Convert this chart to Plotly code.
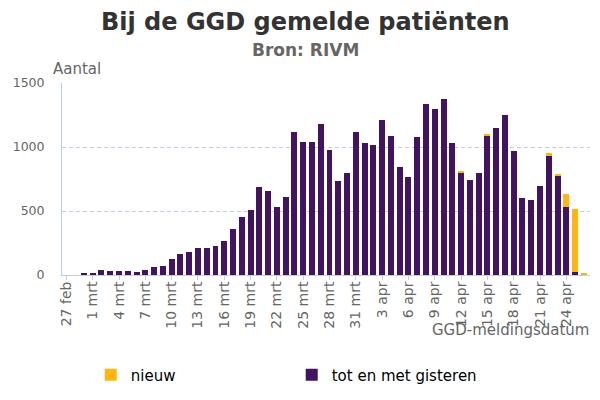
import datetime as dt
import plotly.graph_objects as go

start = dt.date(2020, 2, 27)
maanden = {2: "feb", 3: "mrt", 4: "apr"}
dates = [start + dt.timedelta(days=i) for i in range(60)]
categories = [f"{d.day} {maanden[d.month]}" for d in dates]

tot_en_met_gisteren = [
    0, 0, 8, 8, 39, 31, 31, 31, 23, 39,
    63, 70, 125, 164, 180, 211, 211, 227, 266, 360,
    454, 509, 689, 657, 532, 610, 1119, 1041, 1041, 1182,
    978, 736, 798, 1119, 1033, 1018, 1213, 1088, 845, 767,
    1080, 1338, 1299, 1378, 1033, 798, 744, 798, 1088, 1150,
    1252, 971, 603, 587, 697, 931, 775, 532, 23, 0,
]
nieuw = [
    0, 0, 0, 0, 0, 0, 0, 0, 0, 0,
    0, 0, 0, 0, 0, 0, 0, 0, 0, 0,
    0, 0, 0, 0, 0, 0, 0, 0, 0, 0,
    0, 0, 0, 0, 0, 0, 0, 0, 0, 0,
    0, 0, 0, 0, 0, 8, 0, 0, 8, 0,
    0, 0, 0, 0, 0, 24, 8, 102, 494, 16,
]
tick_labels = categories[::3]
y_ticks = [0, 500, 1000, 1500]

PURPLE = "#42145F"
YELLOW = "#FFB612"
FONT = "DejaVu Sans"
AXIS = "#BFCEE3"

fig = go.Figure()
fig.add_trace(go.Bar(x=categories, y=tot_en_met_gisteren, name="tot en met gisteren",
                     marker=dict(color=PURPLE, line=dict(width=0))))
fig.add_trace(go.Bar(x=categories, y=nieuw, name="nieuw",
                     marker=dict(color=YELLOW, line=dict(width=0))))

# plot area: left 62, width 528; top 83, bottom 275 (height 192)
H = 192.0
W = 528.0
def py(pix):
    return (275 - pix) / H
def px(pix):
    return (pix - 62) / W

fig.update_layout(
    width=600, height=400,
    barmode="stack", bargap=0.32,
    paper_bgcolor="white", plot_bgcolor="white",
    margin=dict(l=62, r=10, t=83, b=125, autoexpand=False),
    font=dict(family=FONT, color="#666666", size=13),
    showlegend=True,
    legend=dict(
        orientation="h", traceorder="reversed",
        x=0.0544, xanchor="left", y=py(375), yanchor="middle",
        font=dict(family=FONT, size=15, color="#000000"),
        entrywidth=156, itemwidth=30,
    ),
    xaxis=dict(
        type="category", categoryorder="array", categoryarray=categories,
        range=[-0.5, 59.7], automargin=False,
        tickmode="array", tickvals=tick_labels, ticktext=tick_labels,
        tickangle=-90, ticks="outside", ticklen=4, tickcolor=AXIS,
        showline=True, linecolor=AXIS, linewidth=1,
        showgrid=False, tickfont=dict(size=14, color="#666666"),
        ticklabelstandoff=-4,
    ),
    yaxis=dict(
        range=[0, 1500], tickvals=y_ticks, ticktext=[str(v) for v in y_ticks],
        automargin=False,
        showgrid=True, gridcolor=AXIS, griddash="4px,3px", gridwidth=1,
        showline=True, linecolor=AXIS, linewidth=1,
        zeroline=False, ticks="", ticklabelstandoff=14,
        tickfont=dict(size=12.5, color="#666666"),
    ),
    annotations=[
        dict(text="<b>Bij de GGD gemelde patiënten</b>", xref="paper", yref="paper",
             x=px(305), y=py(22), xanchor="center", yanchor="middle", showarrow=False,
             font=dict(family=FONT, size=24, color="#333333")),
        dict(text="<b>Bron: RIVM</b>", xref="paper", yref="paper",
             x=px(305), y=py(50), xanchor="center", yanchor="middle", showarrow=False,
             font=dict(family=FONT, size=17, color="#666666")),
        dict(text="Aantal", xref="paper", yref="paper", x=px(51), y=py(69),
             xanchor="left", yanchor="middle", showarrow=False,
             font=dict(family=FONT, size=15, color="#666666")),
        dict(text="GGD-meldingsdatum", xref="paper", yref="paper", x=px(591), y=py(330),
             xanchor="right", yanchor="middle", showarrow=False,
             font=dict(family=FONT, size=15, color="#666666")),
    ],
)

fig.write_html("out.html", config={"displayModeBar": False},
               post_script="document.body.style.margin='0px';")
